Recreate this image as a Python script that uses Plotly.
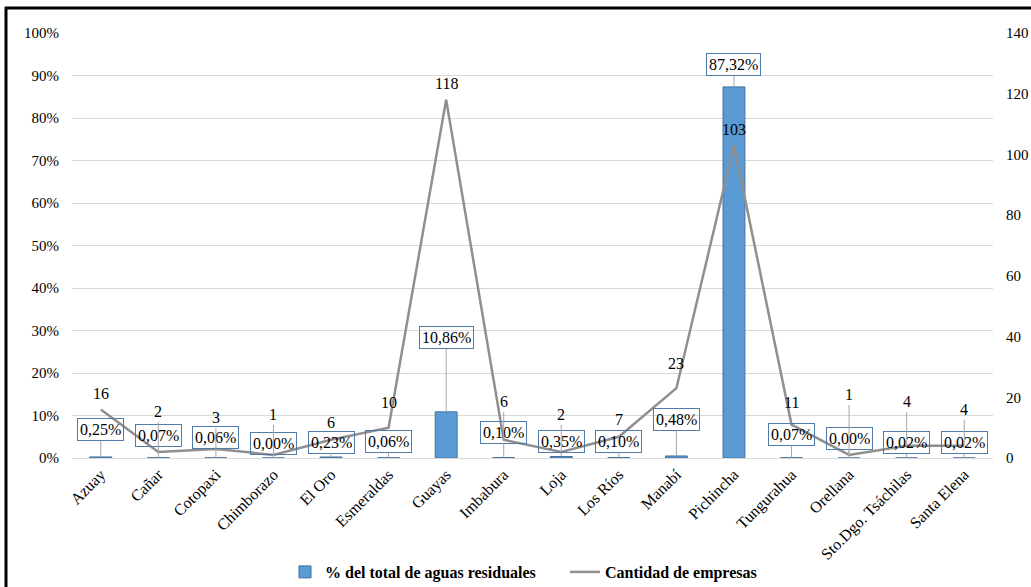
import plotly.graph_objects as go

categories = ["Azuay", "Cañar", "Cotopaxi", "Chimborazo", "El Oro", "Esmeraldas", "Guayas",
              "Imbabura", "Loja", "Los Ríos", "Manabí", "Pichincha", "Tungurahua", "Orellana",
              "Sto.Dgo. Tsáchilas", "Santa Elena"]
pct_values = [0.25, 0.07, 0.06, 0.00, 0.23, 0.06, 10.86, 0.10, 0.35, 0.10, 0.48, 87.32, 0.07, 0.00, 0.02, 0.02]
company_counts = [16, 2, 3, 1, 6, 10, 118, 6, 2, 7, 23, 103, 11, 1, 4, 4]
left_ticks = [0, 10, 20, 30, 40, 50, 60, 70, 80, 90, 100]
right_ticks = [0, 20, 40, 60, 80, 100, 120, 140]

# label offsets (pixels above the mark)
bar_label_offsets = [-27, -22, -20, -15, -15, -16, -74, -25, -15, -16, -36, -22, -23, -20, -15, -15]
line_label_offsets = [-16, -40, -31, -40, -17, -25, -16, -38, -37, -17, -25, -16, -22, -60, -44, -36]

FONT = "Liberation Serif"
W, H = 1031, 587
ML, MR, MT, MB = 72, 38, 33, 129
PW, PH = W - ML - MR, H - MT - MB

fig = go.Figure()
fig.add_trace(go.Bar(
    x=categories, y=pct_values, name="% del total de aguas residuales",
    marker=dict(color="#5B9BD5", line=dict(color="#41719C", width=1)),
    width=0.38, yaxis="y",
))
fig.add_trace(go.Scatter(
    x=categories, y=company_counts, name="Cantidad de empresas", mode="lines",
    line=dict(color="#8F8F8F", width=2.5), yaxis="y2",
))

annotations = []
for cat, v, off in zip(categories, pct_values, bar_label_offsets):
    annotations.append(dict(
        x=cat, y=v, xref="x", yref="y", text=f"{v:.2f}%".replace(".", ","),
        showarrow=True, arrowhead=0, arrowwidth=1, arrowcolor="#A6A6A6",
        ax=0, ay=off, standoff=0, bordercolor="#4F7BA8", borderwidth=1, borderpad=2,
        font=dict(family=FONT, size=16, color="#000000"),
    ))
for cat, v, off in zip(categories, company_counts, line_label_offsets):
    if off <= -30:
        annotations.append(dict(
            x=cat, y=v, xref="x", yref="y2", text=str(v),
            showarrow=True, arrowhead=0, arrowwidth=1, arrowcolor="#A6A6A6",
            ax=0, ay=off, standoff=0,
            font=dict(family=FONT, size=16, color="#000000"),
        ))
    else:
        annotations.append(dict(
            x=cat, y=v, xref="x", yref="y2", text=str(v), showarrow=False,
            yshift=-off, font=dict(family=FONT, size=16, color="#000000"),
        ))


def px_x(px):
    return (px - ML) / PW


def px_y(py):
    return (H - MB - py) / PH


shapes = [
    dict(type="line", xref="paper", yref="paper", x0=px_x(6), x1=px_x(6), y0=px_y(7), y1=px_y(H + 5),
         line=dict(color="black", width=3)),
    dict(type="line", xref="paper", yref="paper", x0=px_x(5), x1=px_x(W + 5), y0=px_y(8), y1=px_y(8),
         line=dict(color="black", width=3)),
]

fig.update_layout(
    width=W, height=H,
    margin=dict(l=ML, r=MR, t=MT, b=MB, autoexpand=False),
    paper_bgcolor="white", plot_bgcolor="white",
    font=dict(family=FONT, size=15, color="#000000"),
    xaxis=dict(tickangle=-45, tickfont=dict(family=FONT, size=16), showgrid=False,
               showline=True, linecolor="#D9D9D9", linewidth=1, ticks="", automargin=False),
    yaxis=dict(range=[0, 100], tickvals=left_ticks, ticktext=[f"{t}%" for t in left_ticks],
               showgrid=True, gridcolor="#D9D9D9", gridwidth=1, zeroline=False,
               tickfont=dict(family=FONT, size=15), ticks="", automargin=False,
               ticklabelstandoff=12),
    yaxis2=dict(range=[0, 140], tickvals=right_ticks, overlaying="y", side="right",
                showgrid=False, zeroline=False, tickfont=dict(family=FONT, size=15), ticks="",
                automargin=False, ticklabelstandoff=12),
    legend=dict(orientation="h", x=px_x(285), xanchor="left", y=px_y(572), yanchor="middle",
                font=dict(family=FONT, size=16, color="#000000", weight="bold"),
                itemwidth=30, entrywidth=235, entrywidthmode="pixels",
                bgcolor="rgba(0,0,0,0)"),
    annotations=annotations,
    shapes=shapes,
    showlegend=True,
)

fig.write_html("out.html", post_script="document.body.style.margin='0px';",
               config={"displayModeBar": False})
